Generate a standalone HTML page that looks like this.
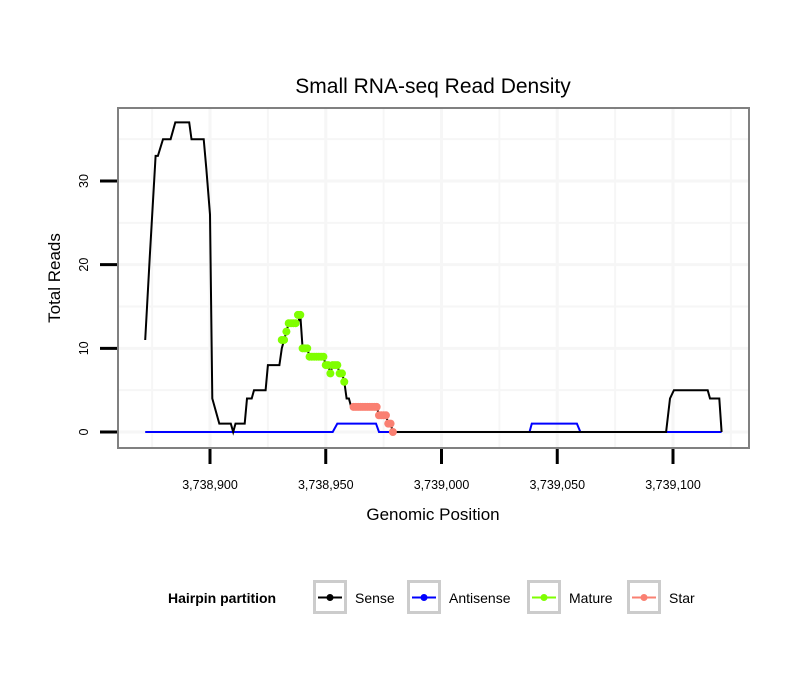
<!DOCTYPE html>
<html><head><meta charset="utf-8"><style>
body{margin:0;background:#fff;font-family:"Liberation Sans",sans-serif}
</style></head><body>
<svg id="c" width="810" height="690" xmlns="http://www.w3.org/2000/svg" font-family="Liberation Sans, sans-serif">
<rect width="810" height="690" fill="#fff"/>
<text x="433" y="93" font-size="21" text-anchor="middle">Small RNA-seq Read Density</text>
<g id="grid"></g>
<g id="series"></g>
<rect x="118" y="108" width="631" height="340" fill="none" stroke="#808080" stroke-width="2"/>
<g id="axes"></g>
<text x="433" y="520" font-size="17" text-anchor="middle">Genomic Position</text>
<text transform="translate(60,278) rotate(-90)" font-size="17" text-anchor="middle">Total Reads</text>
<g id="legend"></g>
</svg>
<script>
const xTicks=[3738900,3738950,3739000,3739050,3739100];
const xTickLabels=["3,738,900","3,738,950","3,739,000","3,739,050","3,739,100"];
const yTicks=[0,10,20,30];
const yTickLabels=["0","10","20","30"];
const senseX=[3738872,3738874,3738876.5,3738877.5,3738879.7,3738883,3738885,3738891,3738892,3738897.3,3738898.4,3738900,3738901,3738904,3738909,3738910,3738911,3738915,3738916,3738918,3738919,3738924,3738925,3738930,3738931,3738932,3738933,3738934,3738938,3738939,3738940,3738942,3738943,3738949,3738950,3738951,3738952,3738953,3738955,3738956,3738957,3738958,3738959,3738960,3738961,3738972,3738973,3738976,3738977,3738978,3738979,3739097,3739098.7,3739100.4,3739115,3739116,3739120,3739121];
const senseY=[11,21,33,33,35,35,37,37,35,35,31.5,26,4,1,1,0,1,1,4,4,5,5,8,8,10,11,12,13,13,14,10,10,9,9,8,8,7,8,8,7,7,6,4,4,3,3,2,2,1,1,0,0,4,5,5,4,4,0];
const antiX=[3738872,3738953,3738955,3738971.7,3738973,3739038,3739039,3739058.5,3739060,3739121];
const antiY=[0,0,1,1,0,0,1,1,0,0];
const matureX=[3738931,3738932,3738933,3738934,3738935,3738936,3738937,3738938,3738939,3738940,3738941,3738942,3738943,3738944,3738945,3738946,3738947,3738948,3738949,3738950,3738951,3738952,3738953,3738954,3738955,3738956,3738957,3738958];
const matureY=[11,11,12,13,13,13,13,14,14,10,10,10,9,9,9,9,9,9,9,8,8,7,8,8,8,7,7,6];
const starX=[3738962,3738963,3738964,3738965,3738966,3738967,3738968,3738969,3738970,3738971,3738972,3738973,3738974,3738975,3738976,3738977,3738978,3738979];
const starY=[3,3,3,3,3,3,3,3,3,3,3,2,2,2,2,1,1,0];
const legendLabels=["Sense","Antisense","Mature","Star"];
const legendColors=["#000000","#0000ff","#7fff00","#fa8072"];

const NS="http://www.w3.org/2000/svg";
const xs=g=>210+(g-3738900)*2.315;
const ys=v=>432-v*8.367;
function mk(tag,attrs,parent){const e=document.createElementNS(NS,tag);for(const k in attrs)e.setAttribute(k,attrs[k]);parent.appendChild(e);return e;}
const grid=document.getElementById('grid'),series=document.getElementById('series'),axes=document.getElementById('axes'),legend=document.getElementById('legend');
for(let i=0;i<xTicks.length;i++){
 for(const g of [xTicks[i],xTicks[i]-25]){const l=mk('line',{x1:xs(g),x2:xs(g),y1:109,y2:447,stroke:'#f6f6f6','stroke-width':g===xTicks[i]?3:2},grid);
 
 }
}
{const g=xTicks[xTicks.length-1]+25;const l=mk('line',{x1:xs(g),x2:xs(g),y1:109,y2:447,stroke:'#f6f6f6','stroke-width':2},grid);

}
for(let i=0;i<yTicks.length;i++){
 for(const v of [yTicks[i],yTicks[i]+5]){const l=mk('line',{x1:119,x2:748,y1:ys(v),y2:ys(v),stroke:'#f6f6f6','stroke-width':v===yTicks[i]?3:2},grid);
 
 }
}
xTicks.forEach((g,i)=>{
 const t=mk('line',{x1:xs(g),x2:xs(g),y1:449,y2:464,stroke:'#000','stroke-width':3},axes);
 
 
 const tx=mk('text',{x:xs(g),y:489,'font-size':12.5,'text-anchor':'middle'},axes);tx.textContent=xTickLabels[i];
 
 
});
yTicks.forEach((v,i)=>{
 const t=mk('line',{x1:100,x2:117,y1:ys(v),y2:ys(v),stroke:'#000','stroke-width':3},axes);
 
 
 const tx=mk('text',{transform:`translate(88,${ys(v)}) rotate(-90)`,'font-size':12.5,'text-anchor':'middle'},axes);tx.textContent=yTickLabels[i];
 
 
});
function pts(X,Y){return X.map((g,i)=>xs(g).toFixed(1)+','+ys(Y[i]).toFixed(1)).join(' ');}
const pa=mk('polyline',{points:pts(antiX,antiY),fill:'none',stroke:'#0000ff','stroke-width':2},series);


const ps=mk('polyline',{points:pts(senseX,senseY),fill:'none',stroke:'#000','stroke-width':2},series);


function dots(X,Y,col,name){X.forEach((g,i)=>{const c=mk('circle',{cx:xs(g),cy:ys(Y[i]),r:4,fill:col},series);
 
 });}
dots(matureX,matureY,'#7fff00','mature-point');
dots(starX,starY,'#fa8072','star-point');
const lt=mk('text',{x:168,y:603,'font-size':14,'font-weight':'bold'},legend);lt.textContent='Hairpin partition';


const kx=[313,407,527,627];
legendLabels.forEach((lab,i)=>{
 const g=mk('g',{},legend);
 
 
 mk('rect',{x:kx[i]+1.5,y:581.5,width:31,height:31,fill:'#fff',stroke:'#cccccc','stroke-width':3},g);
 mk('line',{x1:kx[i]+5,x2:kx[i]+29,y1:597.5,y2:597.5,stroke:legendColors[i],'stroke-width':2},g);
 mk('circle',{cx:kx[i]+17,cy:597.5,r:3.5,fill:legendColors[i]},g);
 const t=mk('text',{x:kx[i]+42,y:603,'font-size':14},g);t.textContent=lab;
});
</script>
</body></html>
